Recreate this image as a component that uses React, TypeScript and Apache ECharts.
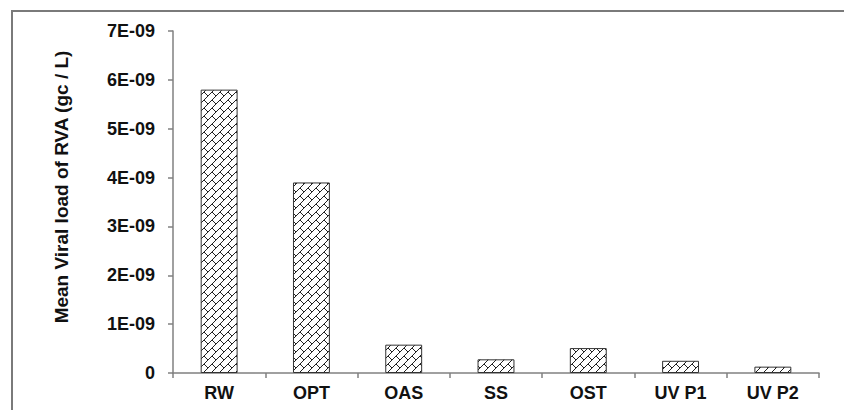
import React, { useEffect, useRef } from "react";
import * as echarts from "echarts";

const categories = ["RW", "OPT", "OAS", "SS", "OST", "UV P1", "UV P2"];
const meanViralLoad = [5.8e-9, 3.9e-9, 5.8e-10, 2.8e-10, 5.1e-10, 2.5e-10, 1.3e-10];
const yTitle = "Mean Viral load of RVA (gc / L)";

function makePattern(): HTMLCanvasElement {
  const c = document.createElement("canvas");
  c.width = 8;
  c.height = 8;
  const ctx = c.getContext("2d")!;
  ctx.fillStyle = "#ffffff";
  ctx.fillRect(0, 0, 8, 8);
  ctx.fillStyle = "#222222";
  const pts: [number, number][] = [
    [7, 0], [6, 1], [5, 2], [4, 3], [3, 4], [2, 5], [1, 6], [0, 7],
    [4, 4], [5, 5], [6, 6], [7, 7],
  ];
  pts.forEach(([x, y]) => ctx.fillRect(x, y, 1, 1));
  return c;
}

export default function App() {
  const ref = useRef<HTMLDivElement>(null);
  useEffect(() => {
    const chart = echarts.init(ref.current!, null, { renderer: "svg" });
    const pattern = makePattern();
    const font = "'Liberation Sans', Arial, sans-serif";
    chart.setOption({
      animation: false,
      backgroundColor: "#ffffff",
      grid: { left: 173, top: 31, right: 25, bottom: 37, containLabel: false },
      graphic: [
        {
          type: "rect",
          shape: { x: 12, y: 11, width: 900, height: 500 },
          style: { fill: "none", stroke: "#7a7a7a", lineWidth: 2 },
          z: 0,
        },
        {
          type: "text",
          x: 61,
          y: 187,
          rotation: Math.PI / 2,
          style: {
            text: yTitle,
            font: `bold 19px ${font}`,
            fill: "#111",
            align: "center",
            verticalAlign: "middle",
          },
        },
      ],
      xAxis: {
        type: "category",
        data: categories,
        axisLine: { lineStyle: { color: "#808080", width: 1.5 } },
        axisTick: { show: true, length: 5, lineStyle: { color: "#808080", width: 1.5 } },
        axisLabel: { color: "#111", fontWeight: "bold", fontSize: 18, fontFamily: font, margin: 11 },
      },
      yAxis: {
        type: "value",
        min: 0,
        max: 7e-9,
        interval: 1e-9,
        splitLine: { show: false },
        axisLine: { show: true, lineStyle: { color: "#808080", width: 1.5 } },
        axisTick: { show: true, length: 5, lineStyle: { color: "#808080", width: 1.5 } },
        axisLabel: {
          color: "#111",
          fontWeight: "bold",
          fontSize: 18,
          fontFamily: font,
          margin: 18,
          formatter: (v: number) => (v === 0 ? "0" : `${Math.round(v / 1e-9)}E-09`),
        },
      },
      series: [
        {
          type: "bar",
          data: meanViralLoad,
          barWidth: "40%",
          itemStyle: {
            color: { image: pattern, repeat: "repeat", imageWidth: 8, imageHeight: 8 },
            borderColor: "#333",
            borderWidth: 1,
          },
        },
      ],
    });
    return () => chart.dispose();
  }, []);
  return (
    <div
      ref={ref}
      style={{ position: "fixed", left: 0, top: 0, width: 844, height: 410, background: "#fff" }}
    />
  );
}
